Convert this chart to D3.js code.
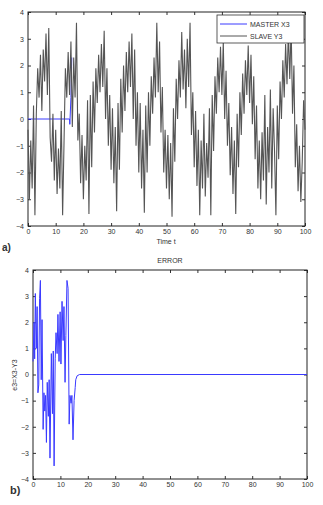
<!DOCTYPE html>
<html>
<head>
<meta charset="utf-8">
<script src="https://cdn.jsdelivr.net/npm/d3@7"></script>
<style>
  body { margin: 0; background: #fff; }
  svg { display: block; }
  text { font-family: "Liberation Sans", Arial, sans-serif; fill: #333; }
</style>
</head>
<body>
<svg id="chart" width="323" height="505"></svg>
<script>
const slaveStep = 0.5;
const slaveY = [
  -0.4, -3.0, -0.8, -2.6, 0.5, -3.6, 0.2, 1.9, 0.8, 2.4, 0.3, 2.6, 1.4, 3.2, 0.9, 3.4, -0.7, -1.6, 0.2, -2.3,
  -0.4, -2.8, -1.1, -2.6, 0.3, -3.6, -0.9, 1.9, 0.8, 2.5, 0.9, 2.9, -0.3, 2.3, 0.8, 3.6, -0.8, 0.2, -2.4, -0.6,
  -3.0, -1.0, -2.3, 0.7, -3.55, 0.9, -1.8, 1.4, -0.5, 1.9, 0.6, 2.4, 1.0, 2.8, 1.2, 3.3, 0.0, 1.9, -1.0, 0.9,
  -1.9, 0.4, -2.4, -0.3, -3.45, 0.6, -1.9, 1.5, -0.5, 2.0, 0.3, 2.5, 1.0, 2.9, 1.2, 3.2, 0.0, 2.6, -1.0, 1.0,
  -2.0, 0.6, -2.6, -0.4, -3.5, 0.5, -2.0, 1.0, -1.0, 1.6, 0.2, 2.3, 0.8, 3.6, 1.0, 2.9, -0.5, 1.2, -2.0, -0.4,
  -2.6, -0.6, -3.0, -0.9, -3.65, 0.4, -1.6, 1.5, 0.0, 2.2, 0.8, 3.25, 1.1, 2.6, 0.4, 3.0, 1.2, 3.6, -0.6, 1.0,
  -1.8, 0.3, -2.5, -0.4, -3.6, -0.8, -2.6, 0.2, -2.9, -0.9, -2.2, 0.4, -3.6, 0.9, -1.2, 1.6, 0.2, 2.3, 1.0, 2.7,
  0.9, 2.9, 0.0, 1.8, -1.0, 0.6, -2.1, -0.3, -2.8, -0.8, -3.55, 0.2, -1.8, 1.0, -0.6, 1.7, 0.2, 2.2, 0.9, 2.75,
  0.6, 2.4, -0.2, 1.6, -1.5, 0.5, -2.6, -0.8, -3.0, -0.5, -2.3, 0.9, -3.2, -0.3, -2.0, 1.1, -2.6, 0.4, -1.2, -3.6,
  0.5, -1.5, 1.4, 0.0, 2.2, 0.8, 2.8, 1.3, 3.3, 1.5, 3.5, 0.2, 2.0, -1.8, -0.2, -2.7, -1.0, -3.1, -1.6, 0.7,
  -0.4
];

// master X3 before it locks onto the slave (afterwards it is hidden under Y3)
const masterT = [0, 15.0, 15.1, 15.5, 15.8];
const masterY = [0, 0, -0.2, 0.8, 2.3];

// error e3 = X3 - Y3
const errT = [0, 0.4, 0.6, 0.85, 1.2, 1.5, 1.8, 2.1, 2.4, 2.7, 3.0, 3.3, 3.7, 4.0, 4.3, 4.6, 4.9, 5.2, 5.6, 5.9,
  6.2, 6.7, 7.1, 7.4, 7.7, 8.1, 8.4, 8.8, 9.1, 9.5, 9.9, 10.2, 10.6, 11.0, 11.3, 11.7, 12.0, 12.4, 12.8, 13.2,
  13.5, 13.9, 14.2, 14.6, 15.0, 15.4, 15.6, 16.1, 17.0, 100];
const errY = [0.5, 2.0, 0.6, 3.1, 1.0, 2.6, -0.7, -0.4, 2.9, 3.6, -0.2, 2.1, -2.1, -0.7, -1.4, -0.8, -2.6, -0.3, -1.6, -0.2,
  -3.2, 0.8, -1.5, 0.9, -3.5, 0.6, 1.6, 0.8, 2.3, 0.5, 2.4, 0.4, 2.8, 1.3, 2.6, -0.3, 1.5, 3.6, 3.3, -1.9,
  -0.8, -1.1, -0.8, -2.5, -1.0, -0.5, -0.2, -0.05, 0, 0];

const xTicks = [0, 10, 20, 30, 40, 50, 60, 70, 80, 90, 100];
const yTicks = [-4, -3, -2, -1, 0, 1, 2, 3, 4];
const legendLabels = ['MASTER X3', 'SLAVE Y3'];

const blue = '#3a3aff';
const grey = '#555';

let svg = d3.select('#chart');

function panel(box) {
  let g = svg.append('g');
  let x = d3.scaleLinear().domain([0, 100]).range([box.left, box.right]);
  let y = d3.scaleLinear().domain([-4, 4]).range([box.bottom, box.top]);

  let axes = [
    [d3.axisBottom(x), `translate(0,${box.bottom})`, true],
    [d3.axisTop(x), `translate(0,${box.top})`, false],
    [d3.axisLeft(y), `translate(${box.left},0)`, true],
    [d3.axisRight(y), `translate(${box.right},0)`, false]
  ];
  axes.forEach(([ax, tr, labels], i) => {
    ax.tickValues(i < 2 ? xTicks : yTicks).tickSizeInner(-3).tickSizeOuter(0).tickPadding(i < 2 ? 3 : 4);
    if (!labels) ax.tickFormat('');
    let a = g.append('g').attr('transform', tr).call(ax);
    a.select('.domain').remove();
    a.selectAll('line').attr('stroke', '#333');
    a.selectAll('text').attr('font-size', 7).attr('fill', '#333')
      .attr('font-family', '"Liberation Sans", Arial, sans-serif');
  });

  g.append('rect')
    .attr('x', box.left).attr('y', box.top)
    .attr('width', box.right - box.left).attr('height', box.bottom - box.top)
    .attr('fill', 'none').attr('stroke', '#222').attr('stroke-width', 1);

  return { g, x, y };
}

// ---- a) master / slave ----
let p1 = panel({ left: 28, right: 305, top: 12, bottom: 226 });
let slavePts = slaveY.map((v, i) => [i * slaveStep, v]);
let masterPts = masterT.map((t, i) => [t, masterY[i]]);

let line1 = d3.line().x(d => p1.x(d[0])).y(d => p1.y(d[1]));

p1.g.append('path').datum(masterPts).attr('d', line1)
  .attr('fill', 'none').attr('stroke', blue).attr('stroke-width', 1);
p1.g.append('path').datum(slavePts).attr('d', line1)
  .attr('fill', 'none').attr('stroke', grey).attr('stroke-width', 1.1);

// legend
let lg = p1.g.append('g');
lg.append('rect').attr('x', 217).attr('y', 15).attr('width', 87).attr('height', 28)
  .attr('fill', '#fff').attr('stroke', '#333').attr('stroke-width', 0.8);
legendLabels.forEach((lab, i) => {
  let yy = 24 + i * 12;
  lg.append('line').attr('x1', 220).attr('x2', 247).attr('y1', yy).attr('y2', yy)
    .attr('stroke', i === 0 ? blue : grey).attr('stroke-width', 1);
  lg.append('text').attr('x', 250).attr('y', yy + 2.5).attr('font-size', 7).text(lab);
});

svg.append('text').attr('x', 166).attr('y', 244).attr('text-anchor', 'middle')
  .attr('font-size', 7).text('Time t');
svg.append('text').attr('x', 2).attr('y', 251).attr('font-size', 10).attr('font-weight', 'bold')
  .attr('fill', '#111').text('a)');

// ---- b) error ----
let p2 = panel({ left: 33, right: 307, top: 270, bottom: 479 });
let errPts = errT.map((t, i) => [t, errY[i]]);
let line2 = d3.line().x(d => p2.x(d[0])).y(d => p2.y(d[1]));
p2.g.append('path').datum(errPts).attr('d', line2)
  .attr('fill', 'none').attr('stroke', blue).attr('stroke-width', 1);

svg.append('text').attr('x', 170).attr('y', 263).attr('text-anchor', 'middle')
  .attr('font-size', 7).text('ERROR');
svg.append('text').attr('transform', 'translate(17,375) rotate(-90)').attr('text-anchor', 'middle')
  .attr('font-size', 7).text('e3=X3-Y3');
svg.append('text').attr('x', 10).attr('y', 494).attr('font-size', 11).attr('font-weight', 'bold')
  .attr('font-family', '"Liberation Serif", "DejaVu Serif", serif').attr('fill', '#111').text('b)');
</script>
</body>
</html>
